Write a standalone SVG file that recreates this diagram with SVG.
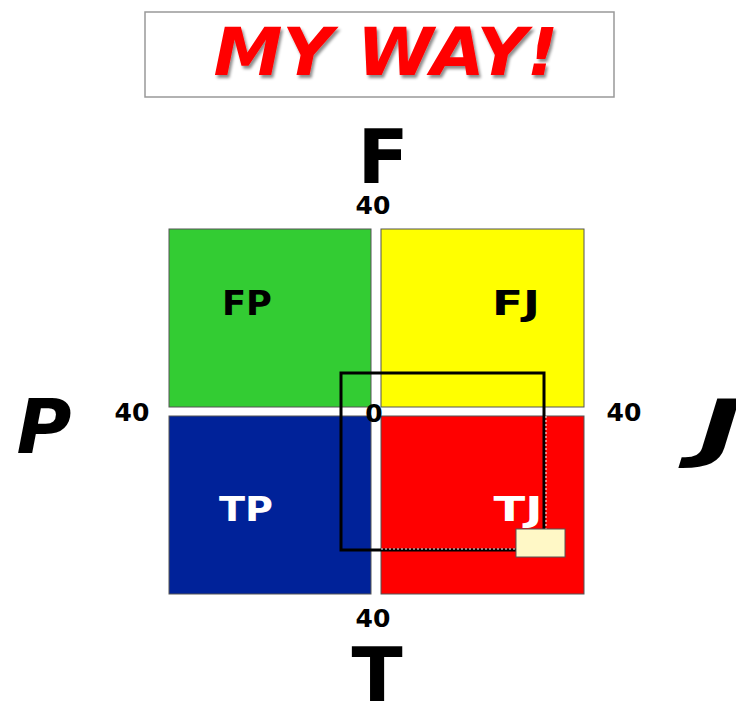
<svg xmlns="http://www.w3.org/2000/svg" width="736" height="702" viewBox="0 0 736 702">
<defs>
<style>
.q{stroke:#555;stroke-width:1}
.lbl{font-family:"DejaVu Sans","Liberation Sans",Arial,sans-serif;font-weight:bold;text-anchor:middle}
.num{font-size:25px;fill:#000}
.big{font-size:75px;fill:#000}
.ql{font-size:34px}
</style>
<filter id="sh" x="-10%" y="-10%" width="120%" height="130%">
<feDropShadow dx="2" dy="3" stdDeviation="1.5" flood-color="#000" flood-opacity="0.45"/>
</filter>
</defs>
<rect width="736" height="702" fill="#fff"/>
<g id="title">
<rect x="145" y="12" width="469" height="85" fill="#fff" stroke="#999" stroke-width="1.5"/>
<text x="386" y="75" class="lbl" font-size="65" font-style="italic" fill="#ff0000" textLength="345" lengthAdjust="spacingAndGlyphs" filter="url(#sh)">MY WAY!</text>
</g>
<g id="FP"><rect class="q" x="169" y="229" width="202" height="178" fill="#33cc33"/><text class="lbl ql" x="247" y="315" fill="#000" textLength="50" lengthAdjust="spacingAndGlyphs">FP</text></g>
<g id="FJ"><rect class="q" x="381" y="229" width="203" height="178" fill="#ffff00"/><text class="lbl ql" x="516" y="315" fill="#000" textLength="48" lengthAdjust="spacingAndGlyphs">FJ</text></g>
<g id="TP"><rect class="q" x="169" y="416" width="202" height="178" fill="#002299"/><text class="lbl ql" x="246" y="521" fill="#fff" textLength="54" lengthAdjust="spacingAndGlyphs">TP</text></g>
<g id="TJ"><rect class="q" x="381" y="416" width="203" height="178" fill="#ff0000"/><text class="lbl ql" x="518" y="521" fill="#fff" textLength="49" lengthAdjust="spacingAndGlyphs">TJ</text></g>
<g id="axes">
<text class="lbl big" x="383" y="183">F</text>
<text class="lbl big" x="377" y="701">T</text>
<text class="lbl big" x="44" y="453" font-size="73" font-style="italic">P</text>
<text class="lbl big" x="720" y="453" font-size="73" font-style="italic" textLength="44" lengthAdjust="spacingAndGlyphs">J</text>
<text class="lbl num" x="373" y="214">40</text>
<text class="lbl num" x="373" y="627">40</text>
<text class="lbl num" x="132" y="421">40</text>
<text class="lbl num" x="624" y="421">40</text>
<text class="lbl num" x="374" y="422">0</text>
</g>
<g id="connectors">
<rect x="341" y="373" width="203" height="177" fill="none" stroke="#000" stroke-width="3"/>
<path d="M546 416V549H380" fill="none" stroke="#fff" stroke-width="1" stroke-dasharray="2,2"/>
<rect x="516" y="529" width="49" height="28" fill="#fff8c6" stroke="#555" stroke-width="1"/>
</g>
</svg>
